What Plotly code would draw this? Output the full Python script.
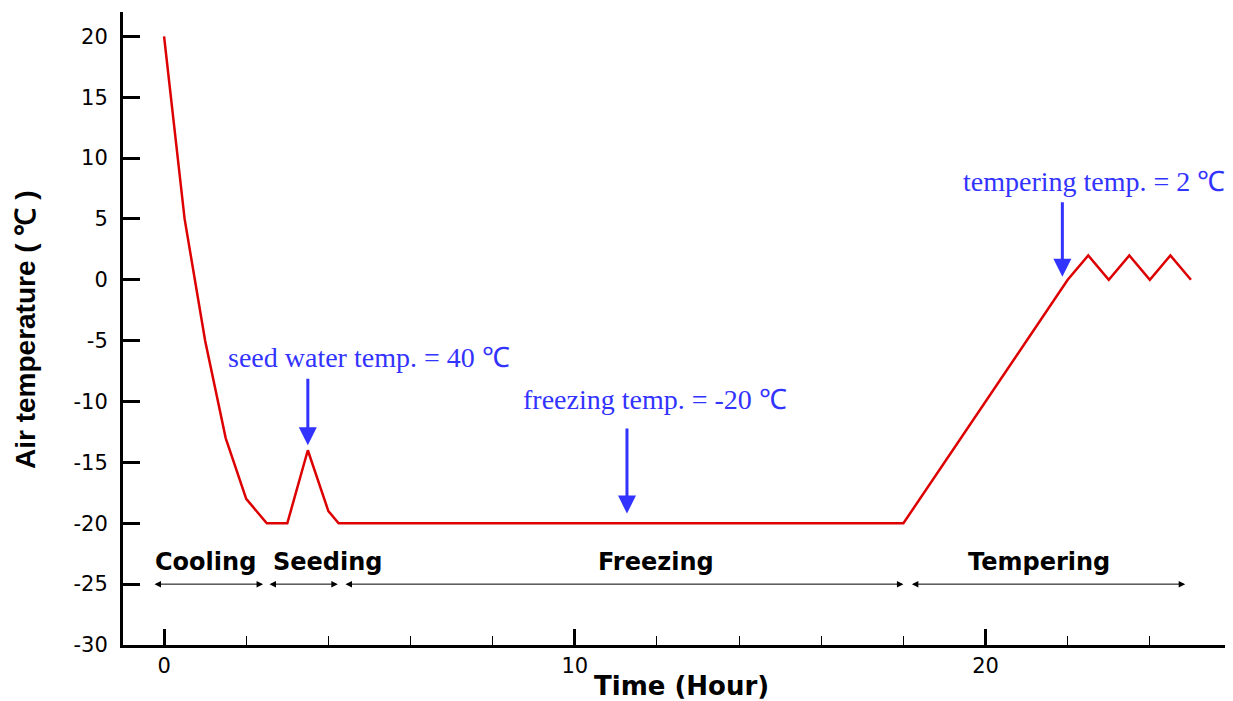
import plotly.graph_objects as go

# Temperature profile (hour, °C)
time_h = [0, 0.5, 1.0, 1.5, 2.0, 2.5, 3.0, 3.5, 4.0, 4.25, 18.0, 22.0, 22.5, 23.0, 23.5, 24.0, 24.5, 25.0]
temp_c = [20, 5, -5, -13, -18, -20, -20, -14, -19, -20, -20, 0, 2, 0, 2, 0, 2, 0]

# Axis ticks
x_ticks = [0, 10, 20]
y_ticks = [-30, -25, -20, -15, -10, -5, 0, 5, 10, 15, 20]
y_tick_labels = ["-30", "-25", "-20", "-15", "-10", "-5", "0", "5", "10", "15", "20"]

# Phase labels and their spans (hour)
phase_names = ["Cooling", "Seeding", "Freezing", "Tempering"]
phase_start = [-0.27, 2.53, 4.38, 18.17]
phase_end = [2.41, 4.23, 18.0, 24.86]
phase_label_x = [1.0, 3.99, 11.97, 21.3]
phase_arrow_y = -25
phase_label_y = -23.2

# Blue callouts
callout_text = ["seed water temp. = 40 ℃", "freezing temp. = -20 ℃", "tempering temp. = 2 ℃"]
callout_text_x = [4.99, 11.95, 22.65]
callout_text_y = [-6.4, -9.84, 8.1]
callout_x = [3.5, 11.27, 21.87]
callout_tail_y = [-8.0, -12.1, 6.5]
callout_head_y = [-13.6, -19.2, 0.25]

SANS = "Liberation Sans, Arial, sans-serif"
WIDE = "DejaVu Sans, Verdana, sans-serif"
SERIF = "Liberation Serif, Times New Roman, serif"
BLUE = "#3333ff"

fig = go.Figure()
fig.add_trace(go.Scatter(x=time_h, y=temp_c, mode="lines",
                         line=dict(color="#dd0000", width=2.5), showlegend=False))

ann = []
for name, s, e, lx in zip(phase_names, phase_start, phase_end, phase_label_x):
    ann.append(dict(x=e, y=phase_arrow_y, ax=s, ay=phase_arrow_y, xref="x", yref="y",
                    axref="x", ayref="y", text="", showarrow=True, arrowhead=2,
                    arrowside="end+start", arrowsize=1.3, arrowwidth=1, arrowcolor="black"))
    ann.append(dict(x=lx, y=phase_label_y, xref="x", yref="y", text="<b>" + name + "</b>",
                    showarrow=False, font=dict(family=WIDE, size=24, color="black")))

for t, tx, ty, cx, cty, chy in zip(callout_text, callout_text_x, callout_text_y,
                                    callout_x, callout_tail_y, callout_head_y):
    ann.append(dict(x=tx, y=ty, xref="x", yref="y", text=t, showarrow=False,
                    font=dict(family=SERIF, size=28, color=BLUE)))
    ann.append(dict(x=cx, y=chy, ax=cx, ay=cty, xref="x", yref="y", axref="x", ayref="y",
                    text="", showarrow=True, arrowhead=2, arrowsize=1.2, arrowwidth=3,
                    arrowcolor=BLUE))

# Axis titles
ann.append(dict(x=0.504, y=0, xref="paper", yref="paper", yshift=-41, yanchor="middle",
                text="<b>Time (Hour)</b>", showarrow=False,
                font=dict(family=WIDE, size=26, color="black")))
ann.append(dict(x=0, y=0.4976, xref="paper", yref="paper", xshift=-98, xanchor="center",
                yanchor="middle", textangle=-90, text="<b>Air temperature ( ℃ )</b>",
                showarrow=False, font=dict(family=SANS, size=28, color="black")))

fig.update_layout(
    width=1225, height=693,
    margin=dict(l=115, r=1, t=4, b=56),
    plot_bgcolor="white", paper_bgcolor="white",
    annotations=ann,
    xaxis=dict(range=[-1, 26], tickvals=x_ticks, ticks="inside", ticklen=16, tickwidth=3,
               tickcolor="black", showline=True, linecolor="black", linewidth=3,
               showgrid=False, zeroline=False,
               minor=dict(dtick=2, tick0=0, ticks="inside", ticklen=9, tickwidth=1,
                          tickcolor="black", showgrid=False),
               tickfont=dict(family=WIDE, size=21, color="black")),
    yaxis=dict(range=[-30, 22], tickvals=y_ticks, ticktext=y_tick_labels, ticks="inside",
               ticklen=17, tickwidth=3, tickcolor="black", showline=True, linecolor="black",
               linewidth=3, showgrid=False, zeroline=False, ticklabelstandoff=8,
               tickfont=dict(family=WIDE, size=21, color="black")),
)

fig.write_html("out.html")
